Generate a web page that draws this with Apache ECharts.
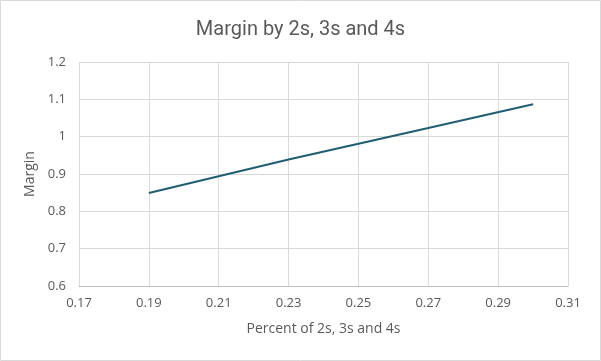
<!DOCTYPE html>
<html><head><meta charset="utf-8">
<script src="https://cdn.jsdelivr.net/npm/echarts@6/dist/echarts.min.js"></script>
<style>html,body{margin:0;padding:0;background:#fff}#c{width:601px;height:361px}</style>
</head><body><div id="c"></div>
<script>
const title = 'Margin by 2s, 3s and 4s';
const xName = 'Percent of 2s, 3s and 4s';
const yName = 'Margin';
const xValues = [0.19, 0.23, 0.25, 0.27, 0.30];
const yValues = [0.849, 0.939, 0.981, 1.023, 1.087];
const xMin = 0.17, xMax = 0.31, xStep = 0.02;
const yMin = 0.6, yMax = 1.2, yStep = 0.1;

const font = '"Open Sans", "Liberation Sans", sans-serif';
const chart = echarts.init(document.getElementById('c'), null, {renderer:'canvas'});
chart.setOption({
  animation:false,
  backgroundColor:'#fff',
  title:{text:title,left:'center',top:15,textStyle:{fontFamily:'Roboto, sans-serif',fontSize:20,fontWeight:'normal',color:'#595959'}},
  graphic:[{type:'rect',shape:{x:0.5,y:0.5,width:600,height:360},style:{fill:'none',stroke:'#d9d9d9',lineWidth:1},silent:true}],
  grid:{left:79,right:33,top:62,bottom:75},
  xAxis:{type:'value',min:xMin,max:xMax,interval:xStep,
    name:xName,nameLocation:'middle',nameGap:36,
    nameTextStyle:{fontFamily:font,fontSize:14,color:'#595959'},
    axisLine:{show:true,lineStyle:{color:'#bfbfbf'}},axisTick:{show:false},
    axisLabel:{fontFamily:font,fontSize:13,color:'#595959',margin:11,formatter:v=>v.toFixed(2).replace(/0+$/,'').replace(/\.$/,'')},
    splitLine:{show:true,lineStyle:{color:'#d9d9d9'}}},
  yAxis:{type:'value',min:yMin,max:yMax,interval:yStep,
    name:yName,nameLocation:'middle',nameGap:40,
    nameTextStyle:{fontFamily:font,fontSize:14,color:'#595959'},
    axisLine:{show:false},axisTick:{show:false},
    axisLabel:{fontFamily:font,fontSize:13,color:'#595959',margin:13,formatter:v=>String(parseFloat(v.toFixed(2)))},
    splitLine:{show:true,lineStyle:{color:'#d9d9d9'}}},
  series:[{type:'line',data:xValues.map((x,i)=>[x,yValues[i]]),showSymbol:false,
    lineStyle:{color:'#1f5d73',width:2},itemStyle:{color:'#1f5d73'}}]
});
</script></body></html>
